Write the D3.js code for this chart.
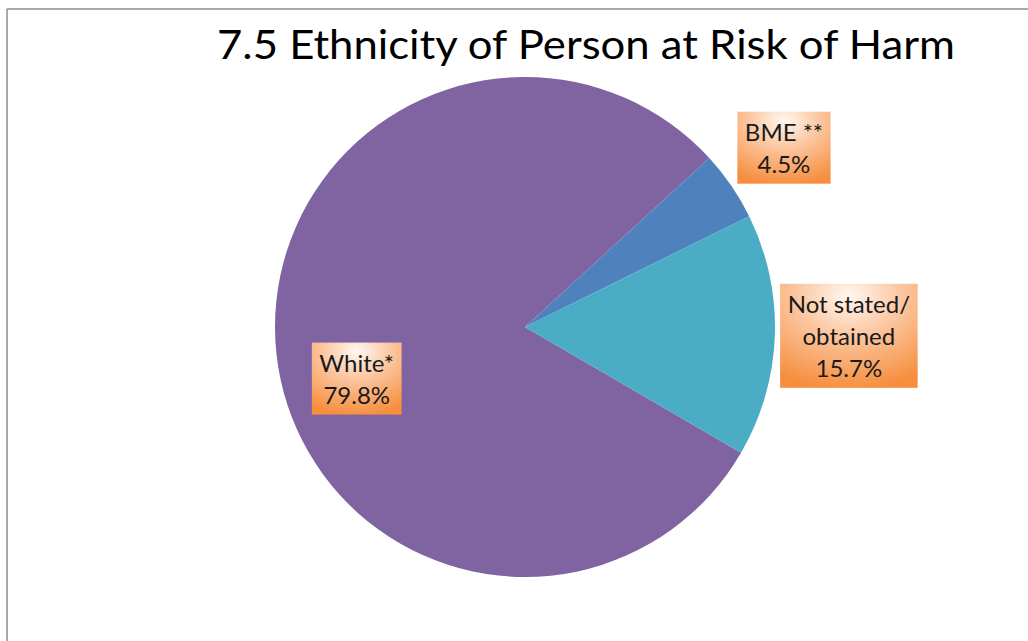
<!DOCTYPE html>
<html>
<head>
<meta charset="utf-8">
<script src="https://cdn.jsdelivr.net/npm/d3@7"></script>
<style>
  html, body { margin: 0; padding: 0; background: #fff; }
  svg { display: block; }
</style>
</head>
<body>
<svg id="chart" width="1028" height="641"></svg>
<script>
// Ethnicity breakdown (percent of persons at risk of harm)
const categories = ["White*", "BME **", "Not stated/\nobtained"];
const values = [79.8, 4.5, 15.7];
const colors = ["#8064a2", "#4f81bd", "#4bacc6"];
const title = "7.5 Ethnicity of Person at Risk of Harm";

const svg = d3.select("#chart");
const W = 1028, H = 641;
const cx = 525, cy = 327, R = 250;

// Frame lines of the chart area
svg.append("line").attr("x1", 7).attr("y1", 9).attr("x2", W).attr("y2", 9)
  .attr("stroke", "#8c8c8c").attr("stroke-width", 1.5);
svg.append("line").attr("x1", 7).attr("y1", 9).attr("x2", 7).attr("y2", H)
  .attr("stroke", "#8c8c8c").attr("stroke-width", 1.5);

// Title
svg.append("text")
  .attr("x", 586).attr("y", 59)
  .attr("text-anchor", "middle")
  .attr("font-family", "Lato, 'Open Sans', sans-serif")
  .attr("font-size", 40)
  .attr("fill", "#000")
  .attr("textLength", 738)
  .attr("lengthAdjust", "spacingAndGlyphs")
  .text(title);

// Pie: the first slice ends where the BME slice begins (~47.5° past 12 o'clock)
const total = d3.sum(values);
const startDeg = 47.5 - values[0] / total * 360;
const pie = d3.pie().sort(null).value(d => d)
  .startAngle(startDeg * Math.PI / 180)
  .endAngle(startDeg * Math.PI / 180 + 2 * Math.PI);
const arcs = pie(values);
const arc = d3.arc().innerRadius(0).outerRadius(R);

const g = svg.append("g").attr("transform", `translate(${cx},${cy})`);
g.selectAll("path.slice").data(arcs).enter().append("path")
  .attr("class", "slice")
  .attr("d", arc)
  .attr("fill", (d, i) => colors[i]);

// Label box gradient
const defs = svg.append("defs");
const grad = defs.append("radialGradient").attr("id", "lblGrad")
  .attr("cx", "50%").attr("cy", "12%").attr("r", "90%");
grad.append("stop").attr("offset", "0%").attr("stop-color", "#fff7f0");
grad.append("stop").attr("offset", "45%").attr("stop-color", "#fbc49c");
grad.append("stop").attr("offset", "100%").attr("stop-color", "#f68e3e");

// Label placement: radius and angle nudge per slice
const labelRadius = [176, 315, 324];
const labelAngleNudge = [-10.9, -0.3, -0.4];

arcs.forEach((d, i) => {
  const mid = (d.startAngle + d.endAngle) / 2 + labelAngleNudge[i] * Math.PI / 180;
  const lx = cx + labelRadius[i] * Math.sin(mid);
  const ly = cy - labelRadius[i] * Math.cos(mid);
  const lines = categories[i].split("\n").concat([d3.format(".1f")(values[i]) + "%"]);
  const lineH = 32;
  const lg = svg.append("g");
  const rect = lg.append("rect");
  const txt = lg.append("text")
    .attr("text-anchor", "middle")
    .attr("font-family", "Lato, 'Open Sans', sans-serif")
    .attr("font-size", 24)
    .attr("fill", "#1a1a1a");
  lines.forEach((s, k) => {
    txt.append("tspan")
      .attr("x", lx)
      .attr("y", ly - (lines.length - 1) * lineH / 2 + k * lineH + 9)
      .text(s);
  });
  const bb = txt.node().getBBox();
  const bw = bb.width + 15;
  const bh = lines.length * lineH + 8;
  rect.attr("x", lx - bw / 2).attr("y", ly - bh / 2)
    .attr("width", bw).attr("height", bh)
    .attr("fill", "url(#lblGrad)");
});
</script>
</body>
</html>
